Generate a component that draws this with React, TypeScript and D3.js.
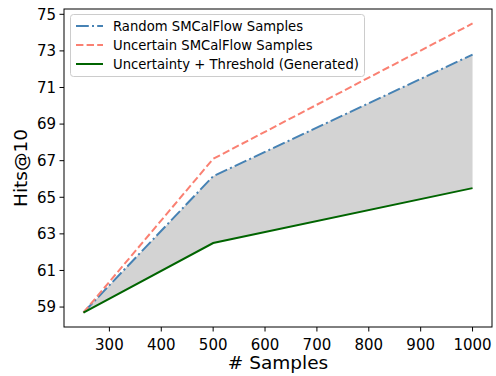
import * as d3 from "d3";

const samples = [250, 500, 1000];
const randomHits = [58.7, 66.15, 72.8];
const uncertainHits = [58.7, 67.1, 74.5];
const thresholdHits = [58.7, 62.5, 65.5];
const xTicks = [300, 400, 500, 600, 700, 800, 900, 1000];
const yTicks = [59, 61, 63, 65, 67, 69, 71, 73, 75];

const series = [
  { name: "Random SMCalFlow Samples", values: randomHits, color: "#4682b4", dash: "12.8,3.2,2,3.2" },
  { name: "Uncertain SMCalFlow Samples", values: uncertainHits, color: "#fa8072", dash: "7.4,3.2" },
  { name: "Uncertainty + Threshold (Generated)", values: thresholdHits, color: "#006400", dash: "" },
];

const W = 496;
const H = 376;
const left = 64;
const right = 492;
const top = 9;
const bottom = 327;
const font = "DejaVu Sans, sans-serif";

export default function App() {
  const x = d3.scaleLinear().domain([212.5, 1037.5]).range([left, right]);
  const y = d3.scaleLinear().domain([57.91, 75.29]).range([bottom, top]);

  const line = d3
    .line<number>()
    .x((_, i) => x(samples[i]))
    .y((d) => y(d));

  // shaded gap between random baseline and the threshold run
  const area = d3
    .area<number>()
    .x((_, i) => x(samples[i]))
    .y0((_, i) => y(thresholdHits[i]))
    .y1((d) => y(d));

  return (
    <svg width={W} height={H} style={{ position: "absolute", left: 0, top: 0 }}>
      <rect width={W} height={H} fill="#fff" />
      <path d={area(randomHits) || ""} fill="#d3d3d3" />
      {series.map((s) => (
        <path
          key={s.name}
          d={line(s.values) || ""}
          fill="none"
          stroke={s.color}
          strokeWidth={2}
          strokeDasharray={s.dash || undefined}
        />
      ))}
      <rect x={left} y={top} width={right - left} height={bottom - top} fill="none" stroke="#000" strokeWidth={1} />

      {xTicks.map((t) => (
        <g key={t} transform={`translate(${x(t)},${bottom})`}>
          <line y2={4.5} stroke="#000" strokeWidth={1} />
          <text y={22.5} textAnchor="middle" fontFamily={font} fontSize={15} fill="#000">
            {t}
          </text>
        </g>
      ))}
      {yTicks.map((t) => (
        <g key={t} transform={`translate(${left},${y(t)})`}>
          <line x2={-4.5} stroke="#000" strokeWidth={1} />
          <text x={-8} dy="0.35em" textAnchor="end" fontFamily={font} fontSize={15} fill="#000">
            {t}
          </text>
        </g>
      ))}

      <text x={(left + right) / 2} y={369} textAnchor="middle" fontFamily={font} fontSize={18.5} fill="#000">
        # Samples
      </text>
      <text
        transform={`translate(27,${(top + bottom) / 2}) rotate(-90)`}
        textAnchor="middle"
        fontFamily={font}
        fontSize={18.5}
        fill="#000"
      >
        Hits@10
      </text>

      <rect x={70.5} y={14.5} width={294} height={62} rx={3} fill="#fff" fillOpacity={0.8} stroke="#ccc" strokeWidth={1} />
      {series.map((s, i) => (
        <g key={s.name} transform={`translate(0,${26 + i * 19})`}>
          <line x1={76} x2={103} stroke={s.color} strokeWidth={2} strokeDasharray={s.dash || undefined} />
          <text x={113} dy="0.35em" fontFamily={font} fontSize={13.2} fill="#000">
            {s.name}
          </text>
        </g>
      ))}
    </svg>
  );
}
